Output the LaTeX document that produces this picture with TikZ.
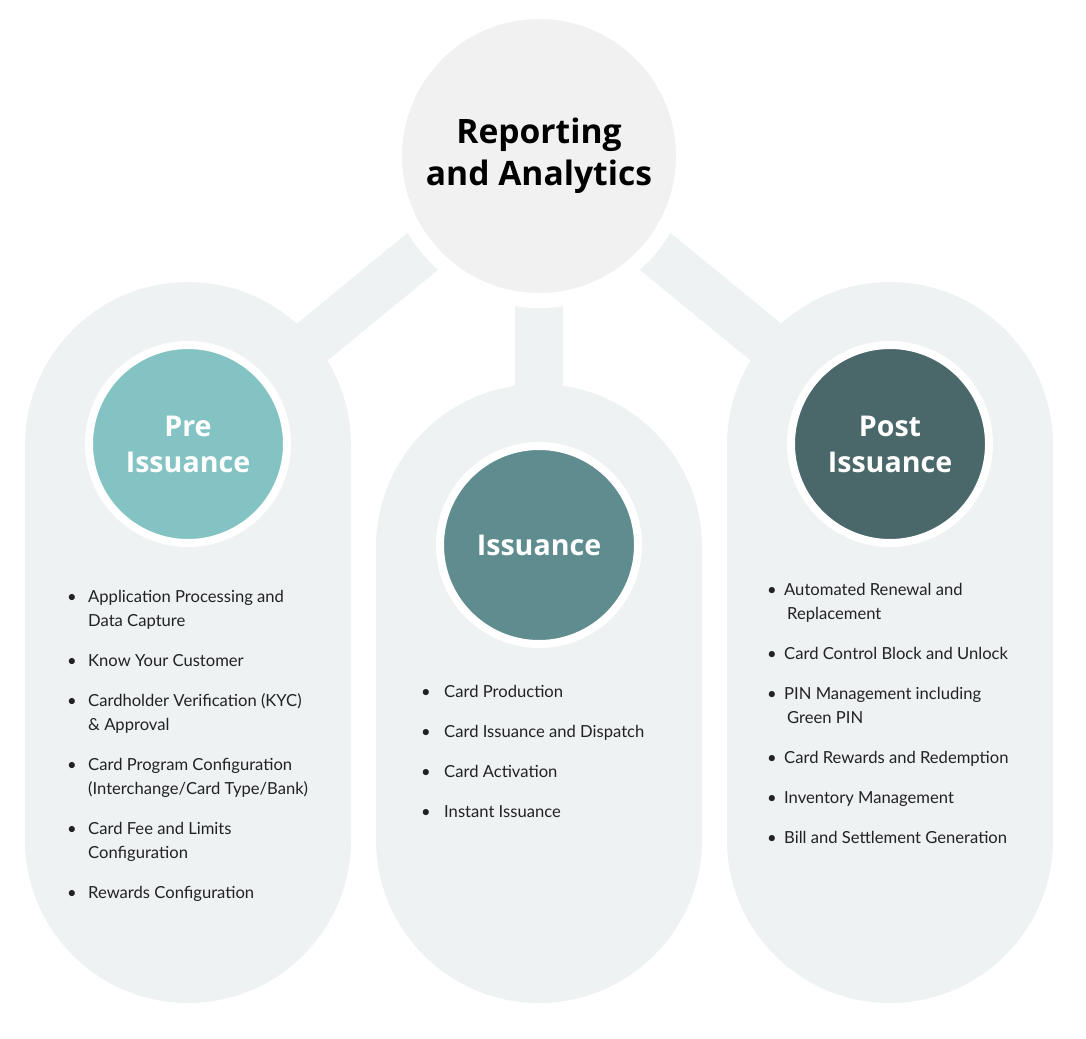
\documentclass[tikz,border=0pt]{standalone}
\usepackage{fontspec}
\setmainfont{Lato}
\newfontfamily\titlefont{Open Sans}
\usetikzlibrary{positioning}
\pgfdeclarelayer{background}
\pgfsetlayers{background,main}

\definecolor{pillgrey}{HTML}{EEF2F3}
\definecolor{hubgrey}{HTML}{F1F1F1}
\definecolor{pregreen}{HTML}{84C3C3}
\definecolor{issteal}{HTML}{5F8C8E}
\definecolor{postslate}{HTML}{4A6769}
\definecolor{listtext}{HTML}{222222}

\newlength{\bulw}
\newcommand{\li}[1]{\makebox[\bulw][l]{\textbullet}#1}
\newcommand{\lc}[1]{\hspace*{\bulw}#1}

\tikzset{
  pill/.style={fill=pillgrey, rounded corners=163pt},
  bar/.style={draw=pillgrey, line width=48pt},
  hub/.style={circle, fill=hubgrey, draw=white, line width=15pt, minimum size=289pt,
    inner sep=0pt, align=center, font=\titlefont\fontsize{33.6}{42}\selectfont\bfseries},
  stage/.style={circle, draw=white, line width=8pt, minimum size=198pt, inner sep=0pt,
    text=white, align=center, font=\titlefont\fontsize{28.6}{36}\selectfont\bfseries},
  items/.style={anchor=north west, inner sep=0pt, align=left, text=listtext,
    font=\fontsize{16.6}{24}\selectfont},
  indent/.style={execute at begin node={\setlength{\bulw}{#1}}}
}

\begin{document}
\begin{tikzpicture}[x=1pt,y=-1pt]
\useasboundingbox (0,0) rectangle (1086,1038);

% circles
\node[hub] (hub) at (539,156) {Reporting\\and Analytics};
\node[stage, fill=pregreen] (pre) at (188,444) {Pre\\Issuance};
\node[stage, fill=issteal] (iss) at (539,545) {Issuance};
\node[stage, fill=postslate] (post) at (890,444) {Post\\Issuance};

% pills and links behind
\begin{pgfonlayer}{background}
  \fill[pill] (25,282) rectangle (351,1003);
  \fill[pill] (376,384) rectangle (702,1003);
  \fill[pill] (727,282) rectangle (1053,1003);
  \draw[bar] (hub.center) -- (pre.center);
  \draw[bar] (hub.center) -- (iss.center);
  \draw[bar] (hub.center) -- (post.center);
\end{pgfonlayer}

% lists
\node[items, indent=21pt] (prelist) at (67,590) {%
  \li{Application Processing and}\\ \lc{Data Capture}\\[16pt]
  \li{Know Your Customer}\\[16pt]
  \li{Cardholder Verification (KYC)}\\ \lc{\& Approval}\\[16pt]
  \li{Card Program Configuration}\\ \lc{(Interchange/Card Type/Bank)}\\[16pt]
  \li{Card Fee and Limits}\\ \lc{Configuration}\\[16pt]
  \li{Rewards Configuration}};

\node[items, indent=23pt] (isslist) at (421,685) {%
  \li{Card Production}\\[16pt]
  \li{Card Issuance and Dispatch}\\[16pt]
  \li{Card Activation}\\[16pt]
  \li{Instant Issuance}};

\node[items, indent=17pt] (postlist) at (767,583) {%
  \li{Automated Renewal and}\\ \lc{\hspace{3pt}Replacement}\\[16pt]
  \li{Card Control Block and Unlock}\\[16pt]
  \li{PIN Management including}\\ \lc{\hspace{3pt}Green PIN}\\[16pt]
  \li{Card Rewards and Redemption}\\[16pt]
  \li{Inventory Management}\\[16pt]
  \li{Bill and Settlement Generation}};

\end{tikzpicture}
\end{document}
